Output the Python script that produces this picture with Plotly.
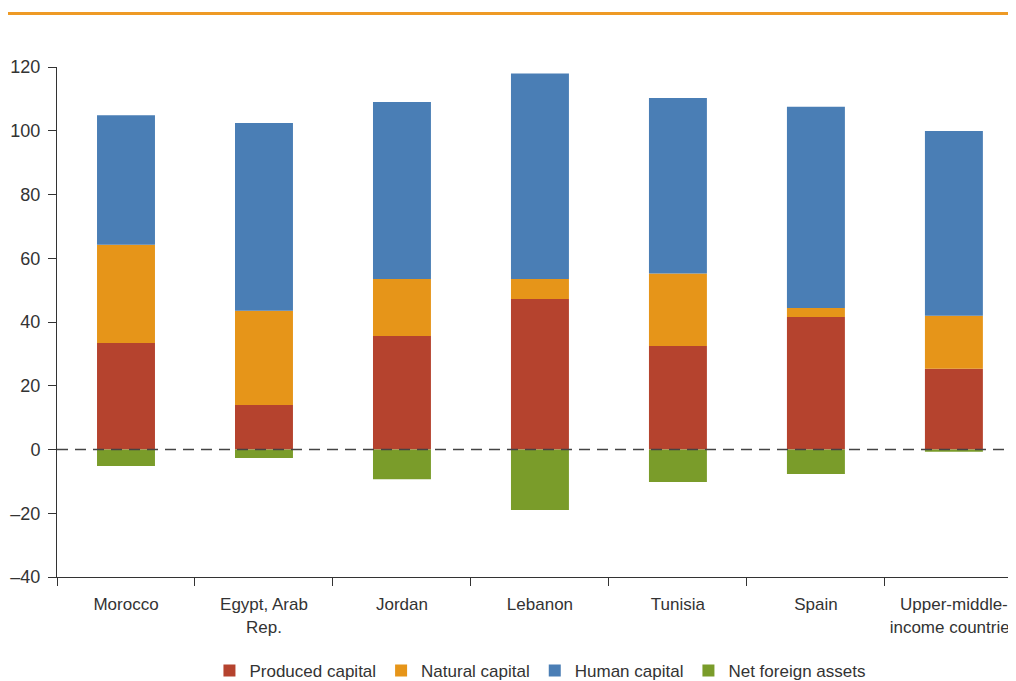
import plotly.graph_objects as go

categories = ["Morocco", "Egypt, Arab<br>Rep.", "Jordan", "Lebanon", "Tunisia", "Spain",
              "Upper-middle-<br>income countries"]
produced = [33.4, 14.0, 35.6, 47.2, 32.5, 41.6, 25.3]
natural = [30.8, 29.5, 17.9, 6.3, 22.7, 2.8, 16.7]
human = [40.7, 58.9, 55.5, 64.5, 55.1, 63.1, 57.9]
net_foreign = [-5.2, -2.7, -9.3, -19.0, -10.2, -7.7, -0.7]

y_ticks = [-40, -20, 0, 20, 40, 60, 80, 100, 120]
y_ticktext = ["–40", "–20", "0", "20", "40", "60", "80", "100", "120"]

series = [
    ("Produced capital", produced, "#B5432E"),
    ("Natural capital", natural, "#E69519"),
    ("Human capital", human, "#4A7EB5"),
    ("Net foreign assets", net_foreign, "#7A9C2A"),
]

FONT = "Liberation Sans, Arial, sans-serif"
TXT = "#333333"

fig = go.Figure()
for name, vals, col in series:
    fig.add_trace(go.Bar(x=categories, y=vals, name=name, marker_color=col,
                         marker_line_width=0, width=0.42))

# page body has an 8px margin; figure offset accordingly
W, H = 1008, 673
L, T, B = 49, 59, 104
plot_h = H - T - B

fig.update_layout(
    barmode="relative",
    width=W, height=H,
    margin=dict(l=L, r=0, t=T, b=B, autoexpand=False),
    plot_bgcolor="white", paper_bgcolor="white",
    font=dict(family=FONT, size=17, color=TXT),
    showlegend=True,
    legend=dict(orientation="h", x=0.5036, xanchor="center",
                y=-(663 - (H - B)) / plot_h, yanchor="middle",
                font=dict(size=17, color=TXT), itemwidth=30,
                traceorder="normal", bgcolor="rgba(0,0,0,0)"),
    xaxis=dict(range=[-0.5, 6.45], showline=True, linecolor=TXT, linewidth=1,
               ticks="outside", tickson="boundaries", ticklen=8, tickcolor=TXT,
               showgrid=False, tickfont=dict(size=17, color=TXT),
               ticklabelstandoff=12),
    yaxis=dict(range=[-40, 120], tickvals=y_ticks, ticktext=y_ticktext,
               showline=True, linecolor=TXT, linewidth=1, ticks="outside",
               ticklen=8, tickcolor=TXT, showgrid=False, zeroline=False,
               tickfont=dict(size=18, color=TXT), ticklabelstandoff=4),
)

# dashed zero line
fig.add_shape(type="line", xref="paper", yref="y", x0=0, x1=1, y0=0, y1=0,
              line=dict(color="#444444", width=1.5, dash="11px,7px"))
# orange top rule
y_rule = 1 + (T - 5.5) / plot_h
fig.add_shape(type="line", xref="paper", yref="paper", x0=-L / (W - L), x1=1,
              y0=y_rule, y1=y_rule, line=dict(color="#EE9A25", width=3))

fig.write_html("out.html")
